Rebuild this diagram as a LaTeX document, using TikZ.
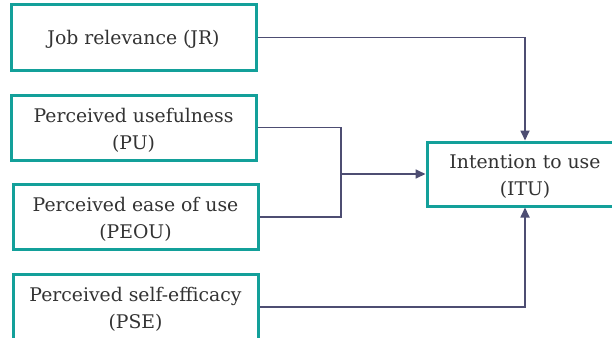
\documentclass[tikz,border=0pt]{standalone}
\usepackage{fontspec}
\setmainfont{DejaVu Serif}
\usetikzlibrary{arrows.meta}
\definecolor{teal1}{HTML}{13A09A}
\definecolor{conn}{HTML}{4D4D72}
\definecolor{txt}{HTML}{333333}
\tikzset{
  box/.style={draw=teal1, line width=3pt, fill=white,
    minimum width=245pt, minimum height=65pt, inner sep=0pt},
  itubox/.style={box, minimum width=196pt, minimum height=64pt},
  label text/.style={text=txt, align=center, inner sep=0pt,
    font=\fontsize{18.8}{27}\selectfont},
  link/.style={draw=conn, line width=1.7pt, -{Triangle[length=10pt,width=9pt]}},
  plain/.style={draw=conn, line width=1.7pt}
}
\begin{document}
\begin{tikzpicture}[x=1pt,y=-1pt]
\useasboundingbox (0,0) rectangle (612,337);
\clip (0,0) rectangle (612,337);
\node[box] (jr) at (133.5,37.5) {};
\node[box] (pu) at (133.5,127.5) {};
\node[box] (peou) at (135.5,217) {};
\node[box, minimum height=66pt] (pse) at (135.5,307) {};
\node[itubox] (itu) at (525,174) {};
\node[label text] (jrt) at ([yshift=-1.5pt]jr.center) {Job relevance (JR)};
\node[label text] (put) at ([yshift=-2.5pt]pu.center) {Perceived usefulness\\(PU)};
\node[label text] (peout) at ([yshift=-2.5pt]peou.center) {Perceived ease of use\\(PEOU)};
\node[label text] (pset) at ([yshift=-2.5pt]pse.center) {Perceived self-efficacy\\(PSE)};
\node[label text] (itut) at ([yshift=-2.5pt]itu.center) {Intention to use\\(ITU)};
\coordinate (j) at (341,174);
\draw[link] (jr.east) -| (itu.north);
\draw[plain] (pu.east) -| (j);
\draw[plain] (peou.east) -| (j);
\draw[link] (j) -- (itu.west);
\draw[link] (pse.east) -| (itu.south);
\end{tikzpicture}
\end{document}
